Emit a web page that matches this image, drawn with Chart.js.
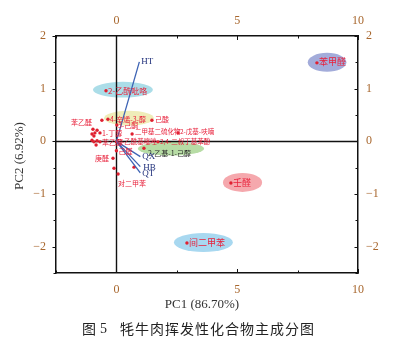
<!DOCTYPE html>
<html>
<head>
<meta charset="utf-8">
<script src="https://cdn.jsdelivr.net/npm/chart.js@4.4.0/dist/chart.umd.min.js"></script>
<style>
  html, body { margin: 0; padding: 0; background: #fff; }
  #wrap { width: 397px; height: 342px; }
</style>
</head>
<body>
<div id="wrap"><canvas id="pcaChart" width="397" height="342"></canvas></div>
<script>
// labelled volatile compounds, scores on PC1 / PC2
const compounds = ['苯甲醛', '壬醛', '间二甲苯', '2-乙酰吡咯', '4-辛烯-3-醇', '苯乙醛', '己酸', '3-己酮', '1-丁醇',
  '二甲基二硫化物', '2-戊基-呋喃', '苯乙醇', '2-乙酰基噻唑', '2,4-二叔丁基苯酚', '2-乙基-1-己醇', '己醛', '庚醛', '对二甲苯'];
const pc1 = [8.30, 4.74, 2.92, -0.43, -0.35, -0.60, 1.47, 0.02, -0.68, 0.65, 2.55, -0.68, 0.00, 1.72, 1.14, 0.00, -0.14, 0.07];
const pc2 = [1.49, -0.79, -1.93, 0.96, 0.42, 0.40, 0.40, 0.31, 0.16, 0.14, 0.16, -0.01, -0.01, -0.01, -0.13, -0.18, -0.32, -0.62];

// unlabelled compounds crowded near the origin
const otherPc1 = [0.73, -0.10, -0.97, -1.01, -0.89, -0.80, -0.93, -1.01, -0.93, -0.80, -0.84];
const otherPc2 = [-0.49, -0.51, 0.23, 0.14, 0.16, 0.21, 0.10, 0.02, -0.01, 0.01, -0.07];

// loadings of the quality traits
const traits = ['HT', 'QX', 'HB', 'QT'];
const traitPc1 = [0.95, 0.99, 0.99, 0.99];
const traitPc2 = [1.51, -0.29, -0.48, -0.60];

// highlighted key compounds (ellipse centre and half axes in PC units)
const groups = ['苯甲醛', '壬醛', '间二甲苯', '2-乙酰吡咯', '4-辛烯-3-醇', '2-乙基-1-己醇'];
const groupPc1 = [8.72, 5.22, 3.60, 0.27, 0.52, 2.26];
const groupPc2 = [1.50, -0.78, -1.92, 0.98, 0.44, -0.14];
const groupRx = [0.80, 0.81, 1.22, 1.24, 1.03, 1.37];
const groupRy = [0.18, 0.18, 0.18, 0.15, 0.14, 0.13];

const xTicks = [0, 5, 10];
const yTicks = [-2, -1, 0, 1, 2];

// drawing styles (kept apart from the data)
const groupColors = ['#a3acda', '#f5a8ad', '#a8d8f0', '#abdde8', '#efedb9', '#b7dca5'];
const labelStyle = {
  '苯甲醛': { dx: 2, dy: -1, size: 9 },
  '壬醛': { dx: 2, dy: 0, size: 9 },
  '间二甲苯': { dx: 2, dy: 0, size: 9 },
  '2-乙酰吡咯': { dx: 2, dy: 0, size: 8 },
  '4-辛烯-3-醇': { dx: 2, dy: 0, size: 7 },
  '苯乙醛': { dx: -10, dy: 2, size: 7, align: 'right' },
  '己酸': { dx: 3, dy: -1, size: 7 },
  '3-己酮': { dx: 1, dy: 0, size: 7 },
  '1-丁醇': { dx: 2, dy: 0, size: 7 },
  '二甲基二硫化物': { dx: 3, dy: -2, size: 6.5 },
  '2-戊基-呋喃': { dx: 2, dy: -1, size: 6.5 },
  '苯乙醇': { dx: 2, dy: 0, size: 7 },
  '2-乙酰基噻唑': { dx: 2, dy: 0, size: 6.5 },
  '2,4-二叔丁基苯酚': { dx: 2, dy: 0, size: 6.5 },
  '2-乙基-1-己醇': { dx: 4, dy: 5, size: 7, color: '#2b2b2b' },
  '己醛': { dx: 2, dy: 1, size: 7 },
  '庚醛': { dx: -4, dy: 0, size: 7, align: 'right' },
  '对二甲苯': { dx: 0, dy: 9, size: 7 }
};
const traitOffset = { 'HT': [2, 0], 'QX': [2, 0], 'HB': [3, 1], 'QT': [2, 1] };

const RED = '#e8213b';
const TICK_COLOR = '#a8672e';
const SERIF = '"Liberation Serif", "DejaVu Serif", serif';
const CJK = '"Noto Sans CJK SC", "Noto Sans", sans-serif';

const pointData = compounds.map((c, i) => ({ x: pc1[i], y: pc2[i] }))
  .concat(otherPc1.map((v, i) => ({ x: v, y: otherPc2[i] })));

const vectorSets = traits.map((t, i) => ({
  label: t,
  data: [{ x: 0, y: 0 }, { x: traitPc1[i], y: traitPc2[i] }],
  showLine: true,
  borderColor: '#3d63b4',
  borderWidth: 1.3,
  pointRadius: 0
}));

const pcaDecor = {
  id: 'pcaDecor',
  beforeDatasetsDraw(chart) {
    const { ctx, chartArea: a, scales: { x, y } } = chart;
    ctx.save();
    // highlight ellipses
    groups.forEach((g, i) => {
      const cx = x.getPixelForValue(groupPc1[i]);
      const cy = y.getPixelForValue(groupPc2[i]);
      const rx = x.getPixelForValue(groupPc1[i] + groupRx[i]) - cx;
      const ry = cy - y.getPixelForValue(groupPc2[i] + groupRy[i]);
      ctx.fillStyle = groupColors[i];
      ctx.beginPath();
      ctx.ellipse(cx, cy, rx, ry, 0, 0, Math.PI * 2);
      ctx.fill();
    });
    // zero lines
    ctx.strokeStyle = '#111';
    ctx.lineWidth = 1.4;
    const x0 = Math.round(x.getPixelForValue(0)) + 0.5;
    const y0 = Math.round(y.getPixelForValue(0)) + 0.5;
    ctx.beginPath();
    ctx.moveTo(x0, a.top); ctx.lineTo(x0, a.bottom);
    ctx.moveTo(a.left, y0); ctx.lineTo(a.right, y0);
    ctx.stroke();
    ctx.restore();
  },
  afterDatasetsDraw(chart) {
    const { ctx, scales: { x, y } } = chart;
    ctx.save();
    ctx.textBaseline = 'middle';
    // compound names
    compounds.forEach((c, i) => {
      const st = labelStyle[c];
      ctx.font = st.size + 'px ' + CJK;
      ctx.fillStyle = st.color || RED;
      ctx.textAlign = st.align || 'left';
      ctx.fillText(c, x.getPixelForValue(pc1[i]) + st.dx, y.getPixelForValue(pc2[i]) + st.dy);
    });
    // trait names at the arrow tips
    ctx.font = '9px ' + SERIF;
    ctx.fillStyle = '#1f2f7a';
    ctx.textAlign = 'left';
    traits.forEach((t, i) => {
      const off = traitOffset[t];
      ctx.fillText(t, x.getPixelForValue(traitPc1[i]) + off[0], y.getPixelForValue(traitPc2[i]) + off[1]);
    });
    ctx.restore();
  },
  afterDraw(chart) {
    const { ctx, chartArea: a, scales } = chart;
    ctx.save();
    ctx.strokeStyle = '#111';
    ctx.lineWidth = 1;
    // tick marks: x axes point inward, y axes to the left
    ['x', 'x2'].forEach(id => {
      const s = scales[id];
      const edge = id === 'x' ? a.bottom : a.top;
      const dir = id === 'x' ? -1 : 1;
      s.ticks.forEach(t => {
        const px = Math.round(s.getPixelForValue(t.value)) + 0.5;
        const len = t.value % 5 === 0 ? 4 : 2.5;
        ctx.beginPath(); ctx.moveTo(px, edge); ctx.lineTo(px, edge + dir * len); ctx.stroke();
      });
    });
    ['y', 'y2'].forEach(id => {
      const s = scales[id];
      const edge = id === 'y' ? a.left : a.right;
      s.ticks.forEach(t => {
        const py = Math.round(s.getPixelForValue(t.value)) + 0.5;
        const len = Number.isInteger(t.value) ? 3.5 : 2.5;
        ctx.beginPath(); ctx.moveTo(edge, py); ctx.lineTo(edge - len, py); ctx.stroke();
      });
    });

    // axis titles
    ctx.fillStyle = '#333';
    ctx.font = '13px ' + SERIF;
    ctx.textAlign = 'center';
    ctx.textBaseline = 'middle';
    ctx.fillText('PC1 (86.70%)', 202, 305);
    ctx.save();
    ctx.translate(20, 156);
    ctx.rotate(-Math.PI / 2);
    ctx.fillText('PC2 (6.92%)', 0, 0);
    ctx.restore();

    // figure caption
    ctx.fillStyle = '#222';
    ctx.textAlign = 'left';
    ctx.font = '14px ' + CJK;
    ctx.fillText('图', 82, 329);
    ctx.font = '14px ' + SERIF;
    ctx.fillText('5', 100, 329);
    ctx.font = '14px ' + CJK;
    let cx = 120;
    for (const ch of '牦牛肉挥发性化合物主成分图') {
      ctx.fillText(ch, cx, 329);
      cx += ctx.measureText(ch).width + 1;
    }
    ctx.restore();
  }
};

function axisX(position, pad, size) {
  return {
    type: 'linear', position: position, min: -2.5, max: 10,
    afterFit: s => { s.height = size; },
    grid: { display: false, drawTicks: false },
    border: { display: true, color: '#111', width: 1.5 },
    ticks: {
      stepSize: 2.5, autoSkip: false, maxRotation: 0, padding: pad,
      color: TICK_COLOR, font: { family: SERIF, size: 12 },
      callback: v => xTicks.includes(v) ? String(v) : ''
    }
  };
}

function axisY(position, pad, size) {
  return {
    type: 'linear', position: position, min: -2.5, max: 2,
    afterFit: s => { s.width = size; },
    grid: { display: false, drawTicks: false },
    border: { display: true, color: '#111', width: 1.5 },
    ticks: {
      stepSize: 0.5, autoSkip: false, padding: pad,
      color: TICK_COLOR, font: { family: SERIF, size: 12 },
      callback: v => yTicks.includes(v) ? (v < 0 ? '\u2212' + Math.abs(v) : String(v)) : ''
    }
  };
}

new Chart(document.getElementById('pcaChart'), {
  type: 'scatter',
  data: {
    datasets: vectorSets.concat([{
      label: 'compounds',
      data: pointData,
      backgroundColor: '#e02030',
      borderWidth: 0,
      pointRadius: 1.7
    }])
  },
  options: {
    responsive: false,
    animation: false,
    layout: { padding: 0 },
    plugins: { legend: { display: false }, tooltip: { enabled: false } },
    scales: {
      x: axisX('bottom', 10, 69),
      x2: axisX('top', 8, 36),
      y: axisY('left', 10, 56),
      y2: axisY('right', 8, 39)
    }
  },
  plugins: [pcaDecor]
});
</script>
</body>
</html>
